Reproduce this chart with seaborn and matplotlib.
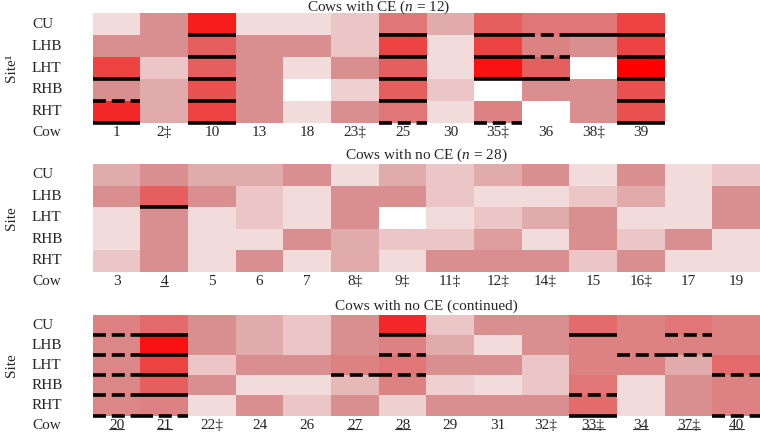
import numpy as np
import pandas as pd
import seaborn as sns
import matplotlib.pyplot as plt
from matplotlib.colors import LinearSegmentedColormap
from matplotlib.lines import Line2D

sites = ["CU", "LHB", "LHT", "RHB", "RHT"]

# cows with CE (n = 12)
cows_ce = ["1", "2‡", "10", "13", "18", "23‡", "25", "30", "35‡", "36", "38‡", "39"]
ce_cu = [1, 4, 8.5, 1, 1, 2, 5, 3, 6, 5, 5, 7]
ce_lhb = [4, 4, 6, 4, 4, 2, 7, 1, 7, 4.5, 4, 7]
ce_lht = [7, 2, 6, 4, 1, 4, 6, 1, 9, 6, 0, 10]
ce_rhb = [4, 3, 6.5, 4, 0, 1.5, 6, 2, 0, 4, 4, 6.5]
ce_rht = [8, 3, 7, 4, 1, 4, 5, 1, 4.5, 0, 4, 6.5]
# line under site: s = solid, d = dashed, . = none  (CU, LHB, LHT, RHB, RHT)
ce_marks = {"1": "..sds", "10": "sssss", "25": "ssssd", "35‡": "sss.d",
            "36": "dds..", "38‡": "s....", "39": "sssss"}

# cows with no CE (n = 28), first half
cows_no1 = ["3", "4", "5", "6", "7", "8‡", "9‡", "11‡", "12‡", "14‡", "15", "16‡", "17", "19"]
no1_cu = [3, 4, 3, 3, 4, 1, 3, 2, 3, 4, 1, 4, 1, 2]
no1_lhb = [4, 6, 4, 2, 1, 4, 4, 2, 1, 1, 2, 3, 1, 4]
no1_lht = [1, 4, 1, 2, 1, 4, 0, 1, 2, 3, 4, 1, 1, 4]
no1_rhb = [1, 4, 1, 1, 4, 3, 2, 2, 3.5, 1, 4, 2, 4, 1]
no1_rht = [2, 4, 1, 4, 1, 3, 1, 4, 4, 4, 2, 4, 1, 1]
no1_marks = {"4": ".s..."}

# cows with no CE (continued)
cows_no2 = ["20", "21", "22‡", "24", "26", "27", "28", "29", "31", "32‡", "33‡", "34", "37‡", "40"]
no2_cu = [4.5, 5.5, 4, 3, 2, 4, 8, 2, 4, 4, 5.5, 4.5, 5, 4.5]
no2_lhb = [4.3, 9, 4, 3, 2, 4, 4.5, 3, 1, 4, 4.5, 4.5, 4.5, 4.5]
no2_lht = [4.3, 7, 2, 4, 4, 4.5, 5, 4, 4, 2, 4.5, 4.5, 3, 5.5]
no2_rhb = [4.3, 6, 4, 1, 1, 2.5, 4.5, 1.5, 1, 2, 5, 1, 4, 4.5]
no2_rht = [4.3, 4.5, 1, 4, 2, 4, 1.5, 4, 4, 4, 5.5, 1, 4, 4.5]
no2_marks = {"20": "ddddd", "21": "ssssd", "27": "..d..", "28": "sdd..",
             "33‡": "s..ds", "34": ".d...", "37‡": "dd...", "40": "..d.d"}

underlined = ["4", "20", "21", "27", "28", "33‡", "34", "37‡", "40"]

sns.set_style("white")
plt.rcParams['font.family'] = ['Liberation Serif', 'DejaVu Serif']
plt.rcParams['mathtext.fontset'] = 'custom'
plt.rcParams['mathtext.rm'] = 'Liberation Serif'
plt.rcParams['mathtext.it'] = 'Liberation Serif:italic'

cmap = LinearSegmentedColormap.from_list("reds", [
    "#FFFFFF", "#F2DADA", "#ECC6C6", "#E2AAAA", "#D98F8F", "#E07676",
    "#E65F5F", "#ED4444", "#F42828", "#FA1212", "#FF0000"])

W, H = 760, 434
fig = plt.figure(figsize=(W / 100, H / 100), dpi=100)

panels = [
    (cows_ce, [ce_cu, ce_lhb, ce_lht, ce_rhb, ce_rht], ce_marks,
     r"Cows with CE ($n$ = 12)", "Site¹", (92.7, 13.3, 665, 122.7), 1.5),
    (cows_no1, [no1_cu, no1_lhb, no1_lht, no1_rhb, no1_rht], no1_marks,
     r"Cows with no CE ($n$ = 28)", "Site", (92.7, 164, 760, 271.7), 3.5),
    (cows_no2, [no2_cu, no2_lhb, no2_lht, no2_rhb, no2_rht], no2_marks,
     "Cows with no CE (continued)", "Site", (92.7, 315, 760, 415.5), 3.5),
]

fs = 11
axes = []
for cows, rows, marks, title, ylab, (x0, y0, x1, y1), tpad in panels:
    ax = fig.add_axes([x0 / W, 1 - y1 / H, (x1 - x0) / W, (y1 - y0) / H])
    df = pd.DataFrame(rows, index=sites, columns=cows)
    sns.heatmap(df, ax=ax, cmap=cmap, vmin=0, vmax=10, cbar=False)
    ax.set_xticklabels(cows, rotation=0, fontsize=fs)
    ax.set_yticklabels(sites, rotation=0, fontsize=fs, ha='left')
    ax.tick_params(axis='y', length=0, pad=(x0 - 32) * 0.72)
    ax.tick_params(axis='x', length=0, pad=2.5)
    ax.set_xlabel("")
    ax.set_ylabel("")
    ax.set_title(title, fontsize=fs, pad=tpad)
    ax.annotate("Cow", xy=(0, 0), xycoords='axes fraction',
                xytext=(-(x0 - 32) * 0.72, -2.5), textcoords='offset points',
                ha='left', va='top', fontsize=fs)
    fig.text(11 / W, 1 - (y0 + y1) / 2 / H, ylab, rotation=90,
             ha='center', va='center', fontsize=fs)
    for j, cow in enumerate(cows):
        code = marks.get(cow, ".....")
        for i, c in enumerate(code):
            if c == 's':
                ax.plot([j, j + 1], [i + 1, i + 1], color='black', lw=2.6,
                        solid_capstyle='butt', clip_on=False)
            elif c == 'd':
                ax.plot([j, j + 1], [i + 1, i + 1], color='black', lw=2.6,
                        dashes=(3.6, 1.6), dash_capstyle='butt', clip_on=False)
    axes.append(ax)

# underline selected cow labels
fig.canvas.draw()
renderer = fig.canvas.get_renderer()
for ax in axes:
    for lab in ax.get_xticklabels():
        if lab.get_text() in underlined:
            bb = lab.get_window_extent(renderer)
            yl = bb.y0 + 2.5
            fig.add_artist(Line2D([bb.x0 / W, bb.x1 / W], [yl / H, yl / H],
                                  color='#333333', lw=0.8,
                                  transform=fig.transFigure))

fig.savefig("out.png", dpi=100)
